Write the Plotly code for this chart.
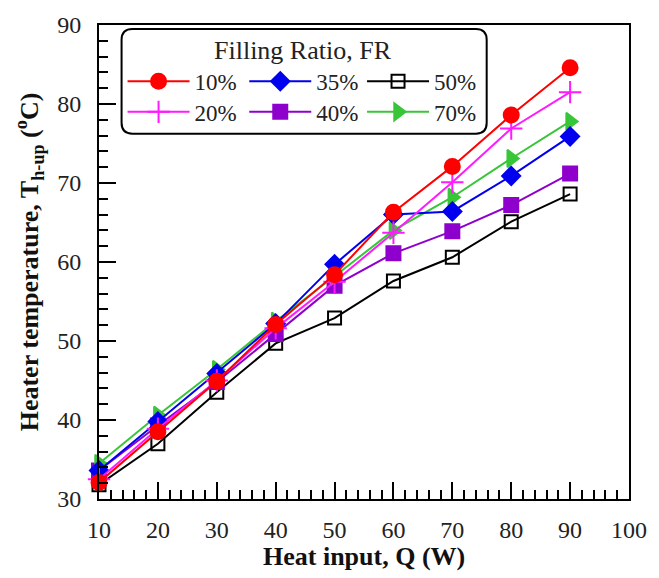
import plotly.graph_objects as go

# Heat input (W)
heat_input = [10, 20, 30, 40, 50, 60, 70, 80, 90]

# Heater temperature T_h-up (°C) for each filling ratio
fr10 = [32.1, 38.5, 44.9, 52.1, 58.4, 66.3, 72.1, 78.6, 84.6]
fr20 = [32.5, 38.9, 45.0, 51.6, 57.5, 63.7, 70.1, 76.9, 81.5]
fr35 = [33.6, 39.8, 45.9, 52.2, 59.7, 66.0, 66.4, 70.9, 75.9]
fr40 = [33.6, 39.3, 44.8, 50.9, 57.0, 61.1, 63.9, 67.2, 71.2]
fr50 = [31.8, 37.0, 43.5, 49.7, 52.9, 57.6, 60.6, 65.1, 68.6]
fr70 = [34.5, 40.6, 46.4, 52.5, 58.2, 64.0, 68.2, 73.1, 77.8]

series_labels = ["10%", "20%", "35%", "40%", "50%", "70%"]

SERIF = "Liberation Serif"
W, H = 659, 578
ML, MR, MT, MB = 99, 20, 19, 79
PW, PH = W - ML - MR, H - MT - MB


def px_x(p):
    return (p - ML) / PW


def px_y(p):
    return (H - MB - p) / PH


# (values, label, color, symbol, size, legend id, legend column px, legend row px)
styles = [
    (fr50, "50%", "#000000", "square-open", 13, "legend5", 367, 76),
    (fr40, "40%", "#8E00CC", "square", 14, "legend4", 247, 107),
    (fr70, "70%", "#38C638", "triangle-right", 15, "legend6", 367, 107),
    (fr35, "35%", "#0000EE", "diamond", 14, "legend3", 247, 76),
    (fr20, "20%", "#FF1AFF", "cross-thin-open", 16, "legend2", 123, 107),
    (fr10, "10%", "#FF0000", "circle", 15, "legend", 123, 76),
]

fig = go.Figure()
legend_layouts = {}
for vals, label, color, symbol, size, leg, lx, ly in styles:
    fig.add_trace(go.Scatter(
        x=heat_input, y=vals, name=label, mode="lines+markers",
        line=dict(color=color, width=2),
        marker=dict(symbol=symbol, size=size, color=color,
                    line=dict(color=color, width=2)),
        cliponaxis=False, legend=leg, showlegend=True,
    ))
    legend_layouts[leg] = dict(
        x=px_x(lx), y=px_y(ly), xanchor="left", yanchor="middle",
        bgcolor="rgba(0,0,0,0)", borderwidth=0, itemwidth=62,
        font=dict(family=SERIF, size=23, color="#222222"),
        itemclick=False, itemdoubleclick=False, visible=True,
    )

# Rounded frame around the legend
x0, x1 = px_x(122), px_x(494)
y0, y1 = px_y(129), px_y(23)
rx, ry = 11 / PW, 11 / PH
box_path = (
    f"M {x0 + rx},{y0} L {x1 - rx},{y0} Q {x1},{y0} {x1},{y0 + ry} "
    f"L {x1},{y1 - ry} Q {x1},{y1} {x1 - rx},{y1} "
    f"L {x0 + rx},{y1} Q {x0},{y1} {x0},{y1 - ry} "
    f"L {x0},{y0 + ry} Q {x0},{y0} {x0 + rx},{y0} Z"
)

axis_common = dict(
    showgrid=False, zeroline=False, showline=True, linecolor="black",
    linewidth=2, mirror=True, ticks="inside", tickwidth=1.5,
    tickcolor="black", ticklen=17,
    tickfont=dict(family=SERIF, size=24, color="#222222"),
)

fig.update_layout(
    width=W, height=H,
    margin=dict(l=ML, r=MR, t=MT, b=MB),
    font=dict(family=SERIF, color="#222222"),
    showlegend=True,
    paper_bgcolor="white", plot_bgcolor="white",
    xaxis=dict(range=[10, 100], dtick=10, tick0=10,
               ticklabelstandoff=8,
               minor=dict(ticks="inside", ticklen=9, tickwidth=1.5,
                          tickcolor="black", dtick=2, tick0=10,
                          showgrid=False),
               **axis_common),
    yaxis=dict(range=[30, 90], dtick=10, tick0=30,
               ticklabelstandoff=11,
               minor=dict(ticks="inside", ticklen=9, tickwidth=1.5,
                          tickcolor="black", dtick=2, tick0=30,
                          showgrid=False),
               **axis_common),
    shapes=[dict(type="path", xref="paper", yref="paper", path=box_path,
                 line=dict(color="black", width=2), fillcolor="white",
                 layer="below")],
    annotations=[
        dict(text="Filling Ratio, FR", xref="paper", yref="paper",
             x=px_x(307), y=px_y(45), showarrow=False,
             xanchor="center", yanchor="middle",
             font=dict(family=SERIF, size=26, color="#222222")),
        dict(text="<b>Heat input, Q (W)</b>", xref="paper", yref="paper",
             x=px_x(369), y=px_y(557), showarrow=False,
             xanchor="center", yanchor="middle",
             font=dict(family=SERIF, size=26, color="#111111")),
        dict(text="<b>Heater temperature, T<sub>h-up</sub> (<sup>o</sup>C)</b>",
             xref="paper", yref="paper", x=px_x(28), y=0.5,
             showarrow=False, textangle=-90,
             xanchor="center", yanchor="middle",
             font=dict(family=SERIF, size=26, color="#111111")),
    ],
    **legend_layouts,
)

fig.write_html("out.html")
